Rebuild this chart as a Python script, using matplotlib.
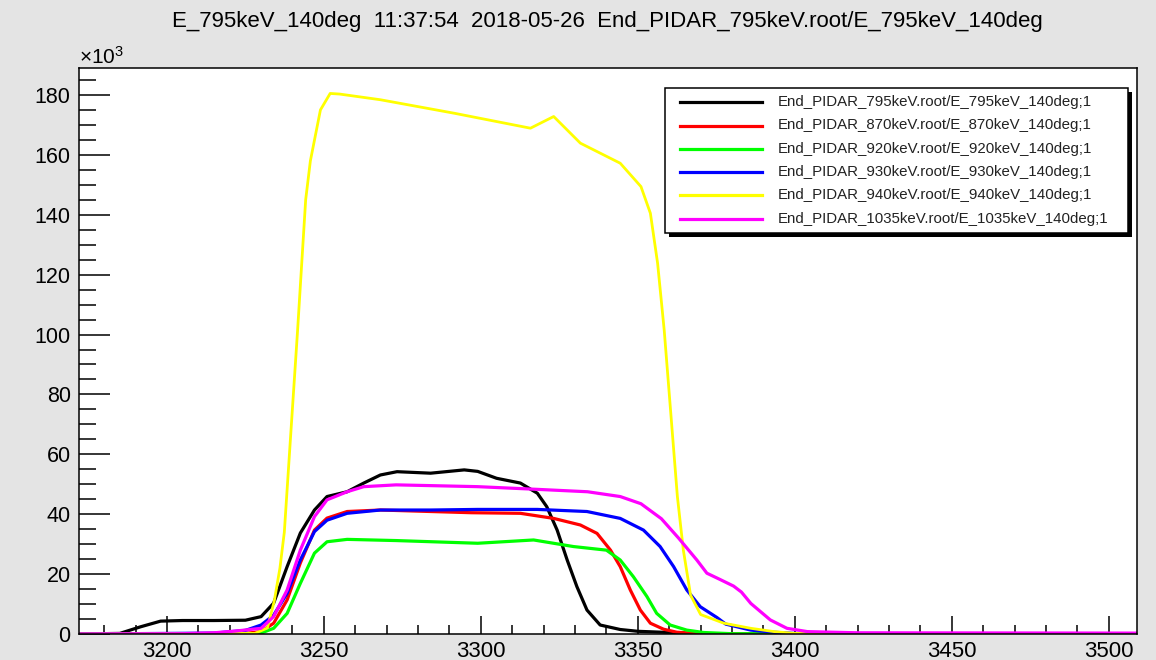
import matplotlib
matplotlib.use("Agg")
import matplotlib.pyplot as plt
from matplotlib.patches import Rectangle
from matplotlib.lines import Line2D
from matplotlib.ticker import MultipleLocator

plt.rcParams['font.family'] = ['Liberation Sans', 'DejaVu Sans']

title = "E_795keV_140deg  11:37:54  2018-05-26  End_PIDAR_795keV.root/E_795keV_140deg"

labels = [
    "End_PIDAR_795keV.root/E_795keV_140deg;1",
    "End_PIDAR_870keV.root/E_870keV_140deg;1",
    "End_PIDAR_920keV.root/E_920keV_140deg;1",
    "End_PIDAR_930keV.root/E_930keV_140deg;1",
    "End_PIDAR_940keV.root/E_940keV_140deg;1",
    "End_PIDAR_1035keV.root/E_1035keV_140deg;1",
]
colors = ["#000000", "#ff0000", "#00ff00", "#0000ff", "#ffff00", "#ff00ff"]

# values in units of 10^3 counts
black_x = [3172, 3185, 3191.6, 3198, 3205, 3215, 3225, 3230, 3234, 3238.3, 3242.5, 3247, 3251,
           3257.4, 3262.7, 3268, 3273.3, 3284, 3294.7, 3299, 3305, 3312.6, 3318, 3321, 3324.3,
           3327.5, 3330.6, 3333.8, 3338, 3344.4, 3350, 3360, 3370, 3509]
black_y = [0, 0.2, 2.4, 4.3, 4.5, 4.5, 4.6, 5.8, 10.3, 22.5, 33.7, 41.4, 45.9,
           47.5, 50.4, 53.1, 54.2, 53.7, 54.8, 54.3, 52.0, 50.4, 47.0, 42.5, 34.7,
           24.7, 15.8, 8.0, 3.0, 1.5, 0.9, 0.5, 0, 0]

red_x = [3172, 3225, 3230, 3234, 3238.3, 3242.5, 3247, 3251, 3257.4, 3268, 3284, 3297,
         3312.6, 3323.2, 3331.7, 3337, 3341.3, 3344.4, 3347.6, 3350.8, 3354, 3358.2, 3362.4,
         3370, 3509]
red_y = [0, 0.2, 0.8, 3.6, 11.4, 23.7, 34.7, 38.7, 40.9, 41.4, 40.9, 40.5,
         40.3, 38.6, 36.4, 33.6, 28.0, 22.5, 14.7, 8.0, 3.6, 1.6, 0.6,
         0.1, 0]

green_x = [3172, 3228, 3230, 3234, 3238.3, 3242.5, 3247, 3251, 3257.4, 3273, 3299, 3316.8,
           3329.5, 3340, 3344.4, 3348.6, 3352.9, 3356, 3360.3, 3365.6, 3371, 3380, 3509]
green_y = [0, 0.1, 0.3, 1.9, 6.9, 16.9, 27.0, 30.8, 31.6, 31.2, 30.3, 31.4,
           29.2, 28.0, 24.7, 19.1, 12.5, 6.9, 3.0, 1.3, 0.5, 0.1, 0]

blue_x = [3172, 3215, 3225, 3230, 3234, 3238.3, 3242.5, 3247, 3251, 3257.4, 3268, 3284,
          3299, 3318, 3333.8, 3344.4, 3351.8, 3357.1, 3361.4, 3365.6, 3369.9, 3375.2, 3378,
          3386, 3393, 3400, 3509]
blue_y = [0, 0.3, 1.2, 3.0, 6.3, 13.6, 24.7, 34.2, 38.0, 40.3, 41.4, 41.4,
          41.6, 41.6, 40.9, 38.6, 34.7, 29.2, 22.5, 14.7, 9.1, 5.5, 3.3,
          1.3, 0.6, 0.2, 0]

yellow_x = [3172, 3228, 3232, 3234.2, 3236, 3237.4, 3239.4, 3241.6, 3244.2, 3245.7, 3248.9,
            3252, 3255, 3268, 3291.5, 3315.8, 3323.2, 3331.7, 3344.4, 3351, 3354, 3356.3,
            3358.4, 3360.5, 3362.6, 3364.5, 3366.8, 3370, 3377.4, 3386, 3393.4, 3400, 3509]
yellow_y = [0, 0.2, 2.0, 11.0, 22.0, 34.0, 66.0, 101.0, 145.0, 158.0, 175.0,
            180.5, 180.3, 178.4, 173.9, 168.9, 172.8, 163.9, 157.2, 149.4, 140.5, 123.8,
            101.5, 73.7, 45.9, 28.0, 13.0, 6.5, 3.6, 1.9, 0.8, 0.2, 0]

pink_x = [3172, 3205, 3215, 3222, 3230, 3234, 3238.3, 3242.5, 3247, 3251, 3257.4, 3262.7,
          3273, 3299, 3318, 3334, 3344.4, 3351, 3357.5, 3363, 3368.8, 3372, 3376, 3380.5,
          3383, 3386, 3392.2, 3397.5, 3404, 3420, 3509]
pink_y = [0, 0.1, 0.4, 1.0, 1.9, 5.8, 14.7, 28.0, 39.2, 44.8, 47.5, 49.2,
          49.8, 49.2, 48.3, 47.5, 45.9, 43.5, 38.5, 32.0, 24.7, 20.3, 18.3, 16.0,
          14.0, 10.2, 4.7, 1.9, 0.8, 0.4, 0.3]

series_x = [black_x, red_x, green_x, blue_x, yellow_x, pink_x]
series_y = [black_y, red_y, green_y, blue_y, yellow_y, pink_y]
lws = [2.3, 2.3, 2.3, 2.3, 2.0, 2.3]

W, H = 1156, 660
fig = plt.figure(figsize=(W / 100, H / 100), dpi=100)
fig.patch.set_facecolor('#e4e4e4')

L, R, T, B = 79, 1137, 68, 634
ax = fig.add_axes([L / W, 1 - B / H, (R - L) / W, (B - T) / H])
ax.set_facecolor('white')

for xs, ys, c, lab, lw in zip(series_x, series_y, colors, labels, lws):
    ax.plot(xs, ys, color=c, lw=lw, label=lab, solid_joinstyle='round', clip_on=True)

ax.set_xlim(3172, 3509)
ax.set_ylim(0, 189)

ax.xaxis.set_major_locator(MultipleLocator(50))
ax.xaxis.set_minor_locator(MultipleLocator(10))
ax.yaxis.set_major_locator(MultipleLocator(20))
ax.yaxis.set_minor_locator(MultipleLocator(5))

ax.tick_params(axis='y', which='major', direction='in', length=22, width=1.1, labelsize=15.5, pad=6)
ax.tick_params(axis='y', which='minor', direction='in', length=12, width=1.1)
ax.tick_params(axis='x', which='major', direction='in', length=13, width=1.1, labelsize=16, pad=5)
ax.tick_params(axis='x', which='minor', direction='in', length=6.5, width=1.1)
for sp in ax.spines.values():
    sp.set_linewidth(1.1)

fig.text(0.525, 1 - 22 / H, title, ha='center', va='center', fontsize=16)
fig.text(L / W, 1 - 57 / H, r'$\mathregular{\times10^{3}}$', ha='left', va='center', fontsize=15)

# legend box with shadow (ROOT style)
lx0, ly0, lx1, ly1 = 665, 88, 1128, 233
shadow = Rectangle((lx0 + 4, H - ly1 - 4), lx1 - lx0, ly1 - ly0, transform=None,
                   facecolor='black', edgecolor='none', zorder=9)
box = Rectangle((lx0, H - ly1), lx1 - lx0, ly1 - ly0, transform=None,
                facecolor='white', edgecolor='black', lw=1.1, zorder=10)
fig.patches.extend([shadow, box])

row_y = [102, 125.5, 149, 172, 195, 218.5]
for yy, c, lab, lw in zip(row_y, colors, labels, lws):
    fig.lines.append(Line2D([680 / W, 762 / W], [1 - yy / H, 1 - yy / H], color=c, lw=2.3,
                            transform=fig.transFigure, zorder=11))
    fig.text(778 / W, 1 - yy / H, lab, ha='left', va='center', fontsize=10.8, zorder=12,
             color='#222222')

fig.savefig('out.png', dpi=100, facecolor=fig.get_facecolor())
